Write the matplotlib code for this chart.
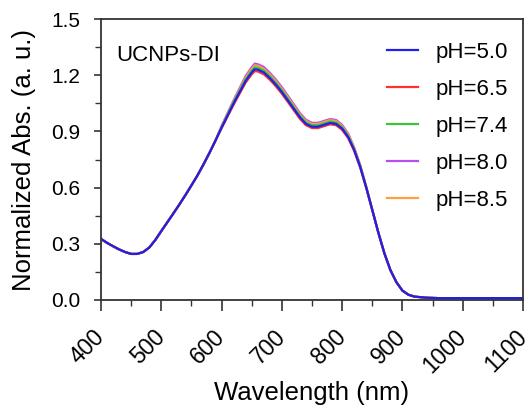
import matplotlib
matplotlib.use('Agg')
import matplotlib.pyplot as plt
from matplotlib.ticker import MultipleLocator, FormatStrFormatter

plt.rcParams['font.family'] = ['Liberation Sans', 'DejaVu Sans']

# wavelength grid (nm)
wl = [400, 410, 420, 430, 440, 450, 460, 470, 480, 490,
      500, 510, 520, 530, 540, 550, 560, 570, 580, 590,
      600, 610, 620, 630, 640, 650, 655, 660, 670, 680,
      690, 700, 710, 720, 730, 740, 750, 760, 770, 780,
      790, 800, 810, 820, 830, 840, 850, 860, 870, 880,
      890, 900, 910, 920, 940, 960, 1000, 1050, 1100]

# shared part of all spectra (400-590 nm and 860-1100 nm)
head = [0.326, 0.305, 0.287, 0.270, 0.256, 0.246, 0.246, 0.256, 0.280, 0.320,
        0.368, 0.415, 0.462, 0.510, 0.560, 0.612, 0.665, 0.724, 0.786, 0.852]
tail = [0.360, 0.250, 0.160, 0.095, 0.050, 0.028, 0.018, 0.012, 0.010, 0.010, 0.010, 0.010]

# 600-850 nm, where the curves split
abs_50 = [0.920, 0.985, 1.050, 1.110, 1.170, 1.215, 1.232, 1.230, 1.215, 1.185,
          1.150, 1.110, 1.065, 1.020, 0.975, 0.940, 0.925, 0.925, 0.935, 0.945,
          0.940, 0.915, 0.870, 0.800, 0.710, 0.600, 0.480]
abs_65 = [0.917, 0.980, 1.043, 1.102, 1.161, 1.205, 1.222, 1.220, 1.205, 1.176,
          1.141, 1.101, 1.057, 1.012, 0.967, 0.933, 0.918, 0.918, 0.928, 0.938,
          0.933, 0.908, 0.864, 0.795, 0.706, 0.597, 0.479]
abs_74 = [0.923, 0.990, 1.057, 1.118, 1.179, 1.225, 1.242, 1.240, 1.225, 1.195,
          1.159, 1.119, 1.074, 1.028, 0.983, 0.948, 0.933, 0.933, 0.943, 0.953,
          0.948, 0.922, 0.876, 0.805, 0.714, 0.602, 0.481]
abs_80 = [0.930, 0.998, 1.067, 1.132, 1.196, 1.243, 1.262, 1.259, 1.244, 1.213,
          1.177, 1.136, 1.090, 1.044, 0.998, 0.962, 0.946, 0.946, 0.956, 0.966,
          0.961, 0.935, 0.888, 0.814, 0.720, 0.605, 0.482]
abs_85 = [0.927, 0.993, 1.062, 1.125, 1.187, 1.234, 1.252, 1.250, 1.234, 1.204,
          1.168, 1.127, 1.082, 1.036, 0.990, 0.955, 0.940, 0.940, 0.950, 0.960,
          0.955, 0.929, 0.883, 0.810, 0.717, 0.603, 0.481]

labels = ['pH=5.0', 'pH=6.5', 'pH=7.4', 'pH=8.0', 'pH=8.5']
colors = ['#2020e8', '#ff3030', '#3cc43c', '#b94ef0', '#ffa040']
series = [abs_50, abs_65, abs_74, abs_80, abs_85]

fig = plt.figure(figsize=(5.30, 4.07), dpi=100)
ax = fig.add_axes([0.1906, 0.2629, 0.7962, 0.6904])

# blue drawn last so it sits on top, as in the original
order = [3, 4, 2, 1, 0]
handles = {}
for i in order:
    y = head + series[i] + tail
    line, = ax.plot(wl, y, color=colors[i], lw=1.6, label=labels[i])
    handles[i] = line

ax.set_xlim(400, 1100)
ax.set_ylim(0, 1.5)
ax.xaxis.set_major_locator(MultipleLocator(100))
ax.xaxis.set_minor_locator(MultipleLocator(50))
ax.yaxis.set_major_locator(MultipleLocator(0.3))
ax.yaxis.set_minor_locator(MultipleLocator(0.15))
ax.yaxis.set_major_formatter(FormatStrFormatter('%.1f'))

for s in ax.spines.values():
    s.set_linewidth(1.3)
    s.set_color('#333333')
ax.tick_params(which='both', direction='out', color='#333333')
ax.tick_params(axis='y', which='major', length=5, width=1.2, labelsize=15, pad=10)
ax.tick_params(axis='y', which='minor', length=4, width=1.0)
ax.tick_params(axis='x', which='major', length=8, width=1.2, labelsize=16.5, pad=16)
ax.tick_params(axis='x', which='minor', length=4.5, width=1.0)
plt.setp(ax.get_xticklabels(), rotation=45, ha='right', va='center', rotation_mode='anchor')

ax.set_xlabel('Wavelength (nm)', fontsize=18.5)
ax.xaxis.set_label_coords(0.5, -0.29)
ax.set_ylabel('Normalized Abs. (a. u.)', fontsize=18.5)
ax.yaxis.set_label_coords(-0.155, 0.5)

ax.text(0.035, 0.87, 'UCNPs-DI', transform=ax.transAxes, fontsize=16, va='center')

ax.legend([handles[i] for i in range(5)], labels, loc='upper right', frameon=False,
          fontsize=16, handlelength=1.4, handletextpad=0.75, labelspacing=0.72,
          borderaxespad=0.3, bbox_to_anchor=(1.0, 0.975))

fig.savefig('out.png', dpi=100)
